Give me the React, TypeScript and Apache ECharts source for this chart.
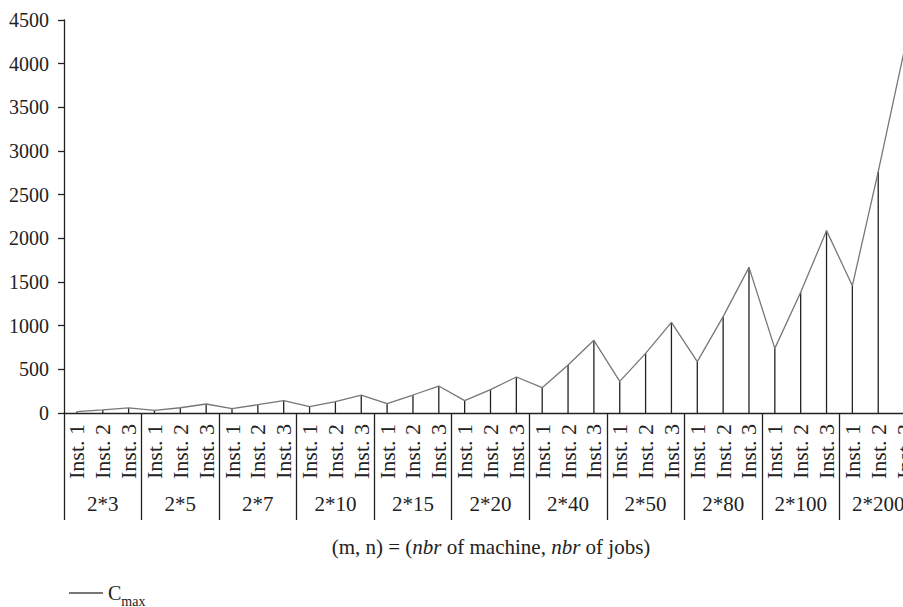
import React, { useEffect, useRef } from "react";
import * as echarts from "echarts";

const instLabels: string[] = [
  "Inst. 1", "Inst. 2", "Inst. 3", "Inst. 1", "Inst. 2", "Inst. 3",
  "Inst. 1", "Inst. 2", "Inst. 3", "Inst. 1", "Inst. 2", "Inst. 3",
  "Inst. 1", "Inst. 2", "Inst. 3", "Inst. 1", "Inst. 2", "Inst. 3",
  "Inst. 1", "Inst. 2", "Inst. 3", "Inst. 1", "Inst. 2", "Inst. 3",
  "Inst. 1", "Inst. 2", "Inst. 3", "Inst. 1", "Inst. 2", "Inst. 3",
  "Inst. 1", "Inst. 2", "Inst. 3",
];
const groupLabels: string[] = [
  "2*3", "2*5", "2*7", "2*10", "2*15", "2*20", "2*40", "2*50", "2*80", "2*100", "2*200",
];
const cmaxValues: number[] = [
  15, 35, 58,
  30, 60, 103,
  50, 95, 141,
  72, 130, 206,
  107, 206, 309,
  141, 267, 412,
  290, 550, 832,
  362, 683, 1038,
  588, 1103, 1668,
  740, 1382, 2088,
  1458, 2763, 4140,
];
const yTicks = { min: 0, max: 4500, interval: 500 };

const FONT = "'Liberation Serif', 'Times New Roman', serif";

export default function App() {
  const ref = useRef<HTMLDivElement>(null);
  useEffect(() => {
    if (!ref.current) return;
    const chart = echarts.init(ref.current, undefined, { renderer: "svg" });
    chart.setOption({
      animation: false,
      backgroundColor: "#ffffff",
      textStyle: { fontFamily: FONT },
      grid: { left: 64, top: 20, right: 0, bottom: 194, containLabel: false },
      legend: {
        left: 64,
        top: 578,
        itemWidth: 34,
        itemHeight: 2,
        itemGap: 12,
        data: [{ name: "Cmax", icon: "rect" }],
        formatter: () => "{c|C}{s|max}",
        textStyle: {
          fontFamily: FONT,
          color: "#222",
          rich: {
            c: { fontSize: 20, fontFamily: FONT, color: "#222", verticalAlign: "bottom", lineHeight: 20 },
            s: { fontSize: 14, fontFamily: FONT, color: "#222", verticalAlign: "bottom", lineHeight: 14, padding: [0, 0, -5, 0] },
          },
        },
      },
      xAxis: [
        {
          type: "category",
          data: instLabels,
          position: "bottom",
          boundaryGap: true,
          axisLine: { show: true, lineStyle: { color: "#222", width: 1.3 } },
          axisTick: { show: false },
          axisLabel: {
            interval: 0,
            rotate: 90,
            margin: 11,
            fontSize: 22,
            fontFamily: FONT,
            color: "#222",
          },
          splitLine: { show: false },
        },
        {
          type: "category",
          data: groupLabels,
          position: "bottom",
          boundaryGap: true,
          axisLine: { show: false },
          axisTick: { show: true, length: 107, interval: 0, lineStyle: { color: "#222", width: 1.3 } },
          axisLabel: {
            interval: 0,
            margin: 80,
            fontSize: 21,
            fontFamily: FONT,
            color: "#222",
          },
          splitLine: { show: false },
        },
      ],
      yAxis: {
        type: "value",
        min: yTicks.min,
        max: yTicks.max,
        interval: yTicks.interval,
        axisLine: { show: true, lineStyle: { color: "#222", width: 1.3 } },
        axisTick: { show: true, length: 6, lineStyle: { color: "#222", width: 1.3 } },
        axisLabel: {
          margin: 15,
          fontSize: 20,
          fontFamily: FONT,
          color: "#222",
          formatter: (v: number) => String(v),
        },
        splitLine: { show: false },
      },
      graphic: [
        {
          type: "text",
          x: 491,
          y: 547,
          style: {
            text: "(m, n) = ({i|nbr} of machine, {i|nbr} of jobs)",
            fontSize: 21,
            fontFamily: FONT,
            fill: "#222",
            align: "center",
            verticalAlign: "middle",
            rich: {
              i: { fontStyle: "italic", fontSize: 21, fontFamily: FONT, fill: "#222" },
            },
          },
        },
      ],
      series: [
        {
          type: "bar",
          xAxisIndex: 0,
          data: cmaxValues,
          barWidth: 1.3,
          itemStyle: { color: "#222" },
          silent: true,
          z: 1,
        },
        {
          name: "Cmax",
          type: "line",
          xAxisIndex: 0,
          data: cmaxValues,
          showSymbol: false,
          symbol: "none",
          itemStyle: { color: "#777" },
          lineStyle: { color: "#777", width: 1.3 },
          z: 2,
        },
      ],
    });
    return () => chart.dispose();
  }, []);
  return (
    <div
      ref={ref}
      style={{ position: "fixed", left: 0, top: 0, width: 917, height: 607 }}
    />
  );
}
